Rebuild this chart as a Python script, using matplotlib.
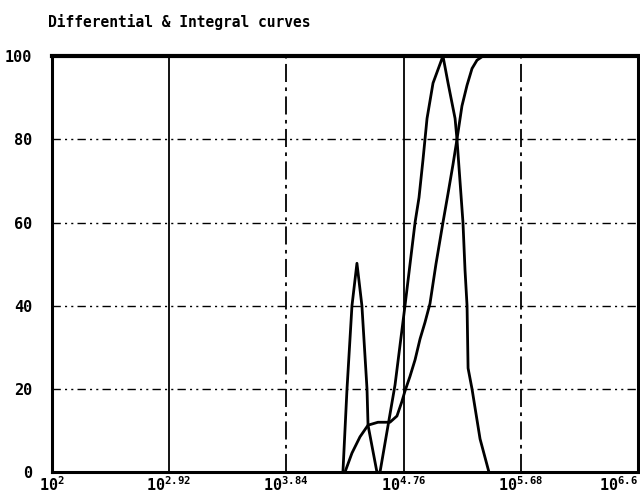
import numpy as np
import matplotlib
matplotlib.use('Agg')
import matplotlib.pyplot as plt

# x values are log10 of size, y values in %
diff_logx = [4.284, 4.316, 4.355, 4.394, 4.433, 4.473, 4.481, 4.551, 4.575,
             4.693, 4.771, 4.850, 4.881, 4.912, 4.944, 4.991, 5.069, 5.109,
             5.164, 5.179, 5.226, 5.242, 5.258, 5.266, 5.297, 5.360, 5.430]
diff_y = [0, 20, 40, 50.2, 40, 20, 11.3, 0, 0,
          21, 40, 60, 66, 75, 85, 93.5, 100, 93.5,
          85, 80, 60, 48.6, 40, 25, 20, 8, 0]

integ_logx = [4.300, 4.355, 4.418, 4.481, 4.559, 4.653, 4.708, 4.747, 4.771,
              4.810, 4.850, 4.889, 4.928, 4.967, 5.014, 5.069, 5.109, 5.148,
              5.179, 5.218, 5.258, 5.297, 5.336, 5.383, 6.6]
integ_y = [0, 4.6, 8.5, 11.3, 12, 12, 13.5, 17, 19.5,
           23, 27, 32, 36, 40.5, 50, 60, 67, 74,
           80, 88, 93, 97, 99, 100, 100]

tick_exp = [2, 2.92, 3.84, 4.76, 5.68, 6.6]
tick_labels = ['$10^{2}$', '$10^{2.92}$', '$10^{3.84}$', '$10^{4.76}$',
               '$10^{5.68}$', '$10^{6.6}$']
y_ticks = [0, 20, 40, 60, 80, 100]

plt.rcParams['font.family'] = 'DejaVu Sans Mono'
plt.rcParams['font.weight'] = 'bold'
plt.rcParams['mathtext.fontset'] = 'custom'
plt.rcParams['mathtext.rm'] = 'DejaVu Sans Mono:bold'
plt.rcParams['mathtext.it'] = 'DejaVu Sans Mono:bold'

fig = plt.figure(figsize=(6.4, 4.96), dpi=100)
ax = fig.add_axes([0.081, 0.048, 0.916, 0.839])

ax.set_xscale('log')
ax.set_xlim(10**2, 10**6.6)
ax.set_ylim(0, 100)

# grid
for yv in [20, 40, 60, 80]:
    ax.axhline(yv, color='black', lw=1.0, ls=(0, (6, 3, 1.5, 3, 1.5, 3)))
vstyles = ['-', (0, (10, 3, 2, 3)), '-', (0, (10, 3, 2, 3))]
for e, s in zip(tick_exp[1:5], vstyles):
    ax.axvline(10**e, color='black', lw=1.3, ls=s)

ax.plot(10**np.array(diff_logx), diff_y, color='black', lw=2.0)
ax.plot(10**np.array(integ_logx), integ_y, color='black', lw=2.0)

ax.set_xticks([10**e for e in tick_exp])
ax.set_xticklabels(tick_labels)
ax.xaxis.set_minor_locator(matplotlib.ticker.NullLocator())
ax.get_xticklabels()[-1].set_horizontalalignment('right')
ax.set_yticks(y_ticks)
ax.set_yticklabels([str(v) for v in y_ticks])
ax.tick_params(length=0, labelsize=11, pad=6)
ax.tick_params(axis='y', pad=14)
ax.tick_params(axis='x', pad=2)

for sp in ax.spines.values():
    sp.set_linewidth(2.2)
ax.spines['top'].set_linewidth(3)

fig.text(0.075, 0.945, 'Differential & Integral curves', fontsize=10.5,
         fontweight='bold')

fig.savefig('out.png', dpi=100)
